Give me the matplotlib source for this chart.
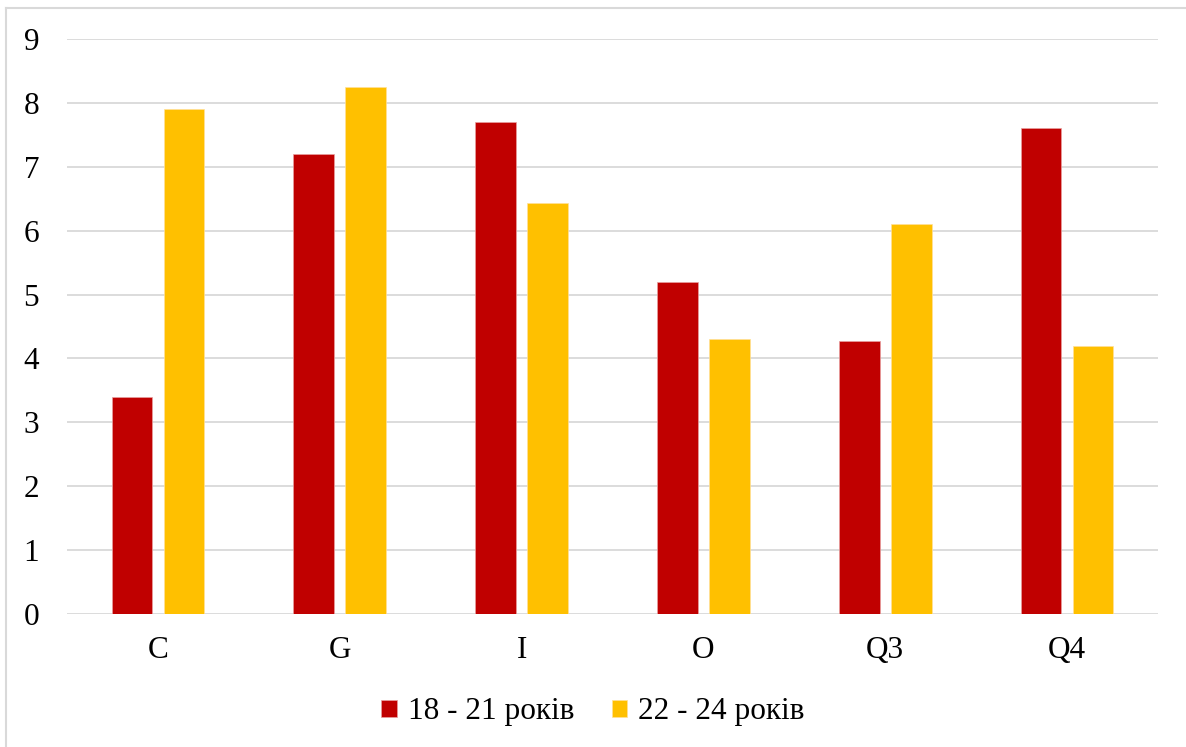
import matplotlib
matplotlib.use("Agg")
import matplotlib.pyplot as plt
from matplotlib.lines import Line2D
import numpy as np

categories = ["C", "G", "I", "O", "Q3", "Q4"]
series_names = ["18 - 21 років", "22 - 24 років"]
values_18_21 = [3.4, 7.2, 7.7, 5.2, 4.28, 7.6]
values_22_24 = [7.9, 8.25, 6.43, 4.3, 6.1, 4.2]
y_ticks = [0, 1, 2, 3, 4, 5, 6, 7, 8, 9]

colors = ["#C00000", "#FFC000"]

plt.rcParams["font.family"] = ["Liberation Serif", "DejaVu Serif"]

W, H = 1186, 747
fig = plt.figure(figsize=(W / 100, H / 100), dpi=100)
ax = fig.add_axes([67 / W, 1 - 614 / H, (1158 - 67) / W, (614 - 39) / H])

x = np.arange(len(categories))
bw = 0.223
off = 0.143
ax.bar(x - off, values_18_21, width=bw, color=colors[0], label=series_names[0],
       edgecolor="#E8A0A0", linewidth=0.5, zorder=3)
ax.bar(x + off, values_22_24, width=bw, color=colors[1], label=series_names[1],
       edgecolor="#FFE099", linewidth=0.5, zorder=3)

ax.set_xlim(-0.5, len(categories) - 0.5)
ax.set_ylim(0, 9)
ax.set_yticks(y_ticks)
ax.set_yticklabels([str(t) for t in y_ticks])
ax.set_xticks(x)
ax.set_xticklabels(categories)
ax.tick_params(axis="both", length=0, labelsize=22.5, colors="black")
ax.tick_params(axis="y", pad=20)
ax.tick_params(axis="x", pad=16)
ax.yaxis.grid(True, color="#D9D9D9", linewidth=1.3, zorder=0)
for s in ax.spines.values():
    s.set_visible(False)

leg = fig.legend(loc="center", bbox_to_anchor=(0.5, 1 - 712 / H), ncol=2,
                 frameon=False, fontsize=22.5, handlelength=0.5, handleheight=0.5,
                 handletextpad=0.35, columnspacing=1.2)

# chart-area border (top and left edges visible)
fig.add_artist(Line2D([6 / W, 6 / W], [0, 1 - 8 / H], color="#D9D9D9", linewidth=1.5))
fig.add_artist(Line2D([6 / W, 1], [1 - 8 / H, 1 - 8 / H], color="#D9D9D9", linewidth=1.5))

fig.savefig("out.png", dpi=100, facecolor="white")
